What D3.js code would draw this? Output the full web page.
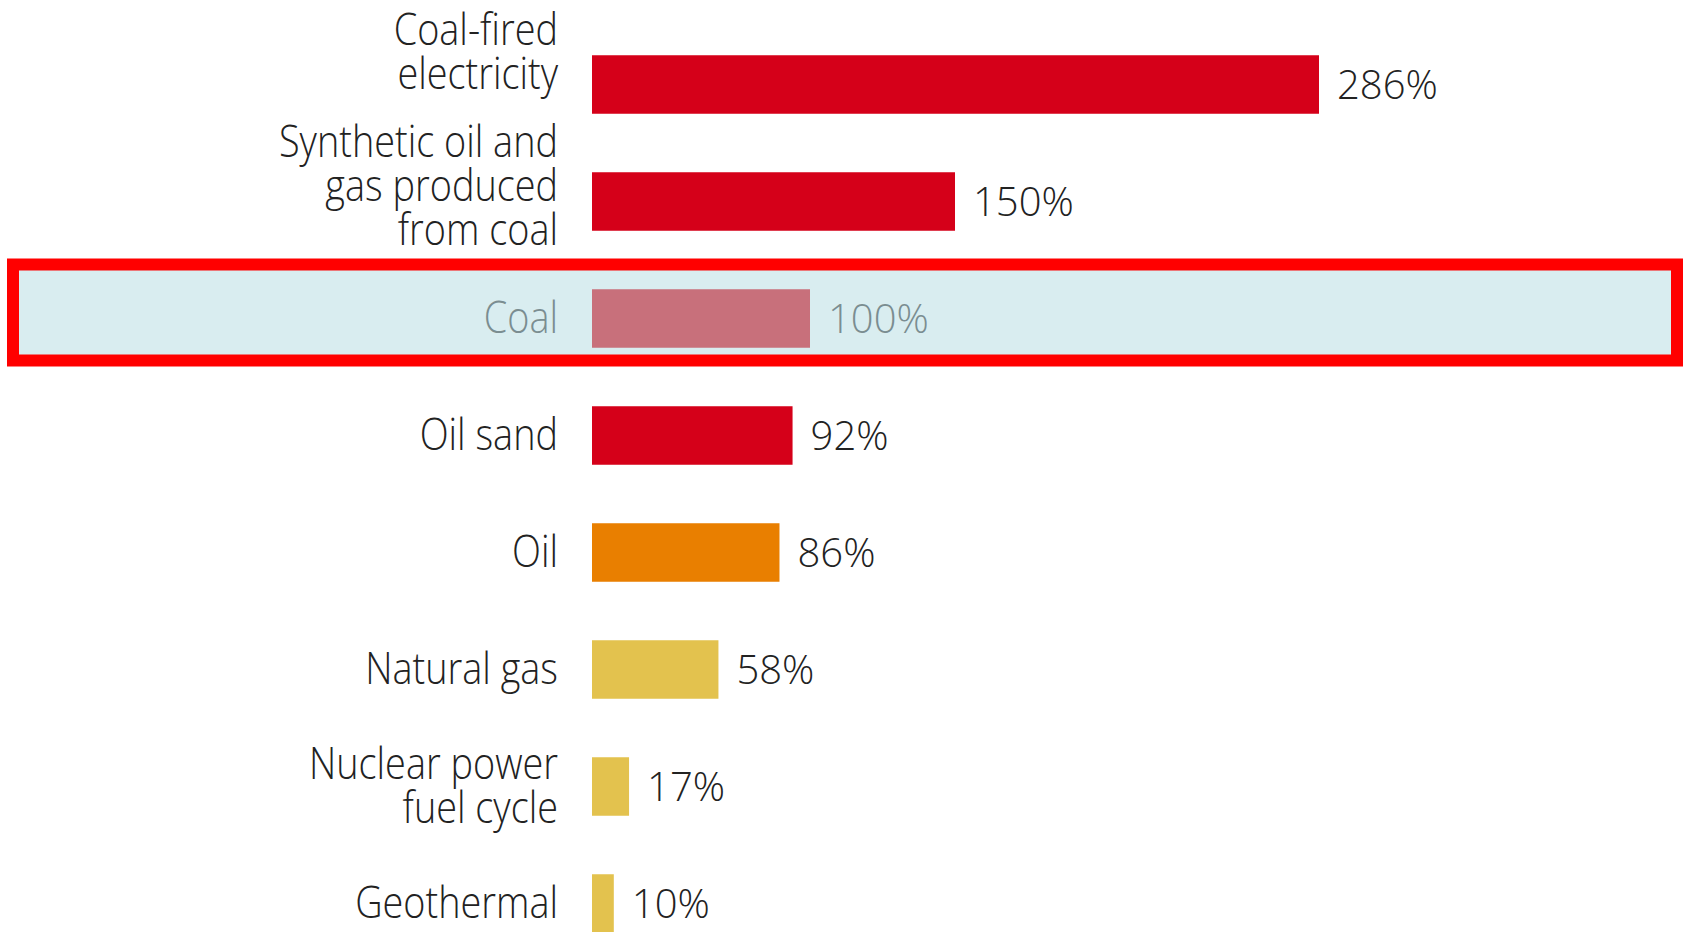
<!DOCTYPE html>
<html>
<head>
<meta charset="utf-8">
<script src="https://cdn.jsdelivr.net/npm/d3@7"></script>
<style>
  body { margin: 0; background: #fff; }
  svg { display: block; }
  text { font-family: "Open Sans", "Noto Sans", sans-serif; font-weight: 300; }
</style>
</head>
<body>
<div id="chart"></div>
<script>
// Data
var categories = ["Coal-fired electricity", "Synthetic oil and gas produced from coal", "Coal",
                  "Oil sand", "Oil", "Natural gas", "Nuclear power fuel cycle", "Geothermal"];
var labelLines = [["Coal-fired", "electricity"], ["Synthetic oil and", "gas produced", "from coal"], ["Coal"],
                  ["Oil sand"], ["Oil"], ["Natural gas"], ["Nuclear power", "fuel cycle"], ["Geothermal"]];
var values = [286, 150, 100, 92, 86, 58, 17, 10];
var groups = ["coal", "coal", "reference", "coal", "oil", "gas", "gas", "gas"];
var highlighted = "Coal";

var w = 1684, h = 932;
var barLeft = 592;

var color = d3.scaleOrdinal()
  .domain(["coal", "reference", "oil", "gas"])
  .range(["#d50019", "#c8707b", "#e97f00", "#e3c24e"]);

var data = categories.map(function(c, i) {
  return { name: c, lines: labelLines[i], value: values[i], group: groups[i] };
});

var svg = d3.select("#chart").append("svg")
  .attr("width", w)
  .attr("height", h);

// the printed graphic is not drawn strictly to scale, so use a piecewise linear scale
var x = d3.scaleLinear()
  .domain([0, 100, 150, 286])
  .range([0, 218, 363, 727]);

var y = d3.scaleBand()
  .domain(categories)
  .range([26, 962])
  .paddingInner(0.5)
  .paddingOuter(0.25);

// highlight band for the reference row (Coal = 100%)
var hy = y(highlighted) + y.bandwidth() / 2;
svg.append("rect")
  .attr("x", 13)
  .attr("y", hy - 54)
  .attr("width", 1664)
  .attr("height", 96)
  .attr("fill", "#d9edf0")
  .attr("stroke", "#ff0000")
  .attr("stroke-width", 12);

var g = svg.append("g").attr("transform", "translate(" + barLeft + ",0)");

//Bars
g.selectAll("rect.bar")
  .data(data)
  .enter()
  .append("rect")
    .attr("class", "bar")
    .attr("x", x(0))
    .attr("y", function(d) { return y(d.name); })
    .attr("width", function(d) { return x(d.value); })
    .attr("height", y.bandwidth())
    .attr("fill", function(d) { return color(d.group); });

// value labels
g.selectAll("text.value")
  .data(data)
  .enter()
  .append("text")
    .attr("class", "value")
    .attr("x", function(d) { return x(d.value) + 18; })
    .attr("y", function(d) { return y(d.name) + y.bandwidth() / 2 + 14; })
    .attr("font-size", 40)
    .attr("fill", function(d) { return d.name == highlighted ? "#7b8d91" : "#222"; })
    .text(function(d) { return d.value + "%"; });

// category labels, right aligned, several lines (condensed like the print font)
var lineH = 44;

// first-line baseline of each label: centred on the bar, kept inside its row
data.forEach(function(d) {
  var n = d.lines.length;
  var ty = y(d.name) + y.bandwidth() / 2 + 14 - (n - 1) * lineH / 2;
  var maxLast = y(d.name) + y.bandwidth() + 14;
  d.ty = Math.min(ty, maxLast - (n - 1) * lineH);
});
// push labels up when they would run into the label below
for (var i = data.length - 2; i >= 0; i--) {
  var last = data[i].ty + (data[i].lines.length - 1) * lineH;
  var limit = data[i + 1].ty - 1.55 * lineH;
  if (last > limit) data[i].ty -= last - limit;
}

var labels = svg.selectAll("text.cat")
  .data(data)
  .enter()
  .append("text")
    .attr("class", "cat")
    .attr("text-anchor", "end")
    .attr("font-size", 44)
    .attr("fill", function(d) { return d.name == highlighted ? "#7b8d91" : "#222"; })
    .attr("transform", function(d) {
      return "translate(" + (barLeft - 34) + "," + d.ty + ") scale(0.86,1)";
    });

labels.selectAll("tspan")
  .data(function(d) { return d.lines; })
  .enter()
  .append("tspan")
    .attr("x", 0)
    .attr("dy", function(d, i) { return i == 0 ? 0 : lineH; })
    .text(function(d) { return d; });
</script>
</body>
</html>
